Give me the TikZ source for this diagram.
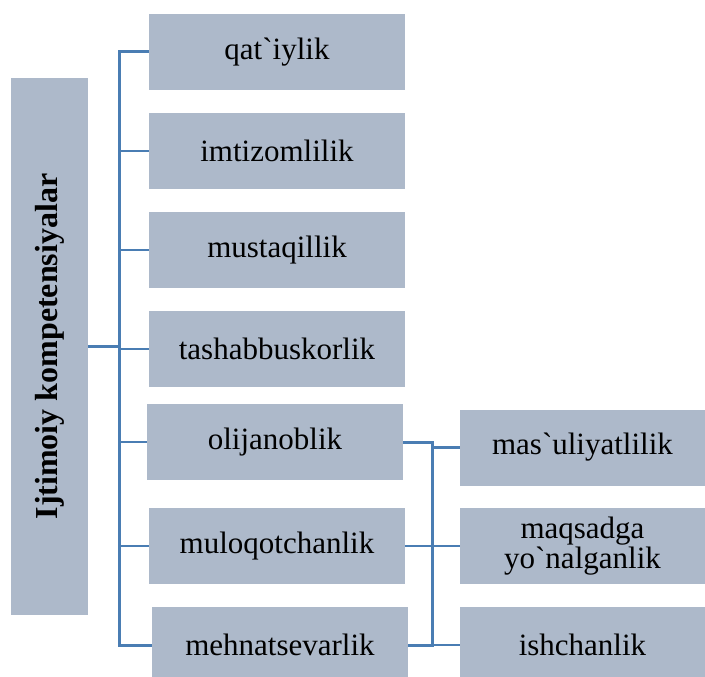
\documentclass[tikz,border=0pt]{standalone}
\usepackage{fontspec}
\setmainfont{Liberation Serif}[Ligatures=TeXOff]
\definecolor{boxfill}{HTML}{ADB9CA}
\definecolor{linec}{HTML}{4A7DB3}
\begin{document}
\begin{tikzpicture}[x=1pt,y=-1pt,
  box/.style={fill=boxfill,draw=none,minimum width=256pt,minimum height=76pt,inner sep=0pt,
    font=\fontsize{31}{28}\selectfont,align=center},
  rbox/.style={box,minimum width=245pt},
  conn/.style={draw=linec,line width=3pt},
  stub/.style={draw=linec,line width=2.2pt}]
\useasboundingbox (0,0) rectangle (705,677);
\node[fill=boxfill,minimum width=77pt,minimum height=537pt,inner sep=0pt] (ijt) at (49.5,346.5) {};
\node[rotate=90,font=\fontsize{32}{32}\selectfont\bfseries] at (ijt.center) {Ijtimoiy kompetensiyalar};
\node[box] (b1) at (277,52) {qat`iylik};
\node[box] (b2) at (277,151) {imtizomlilik};
\node[box] (b3) at (277,250) {mustaqillik};
\node[box] (b4) at (277,349) {tashabbuskorlik};
\node[box] (b5) at (275,442) {olijanoblik};
\node[box] (b6) at (277,546) {muloqotchanlik};
\node[box] (b7) at (280,645) {mehnatsevarlik};
\node[rbox] (r1) at (582.5,447.5) {mas`uliyatlilik};
\node[rbox] (r2) at (582.5,546) {maqsadga\\yo`nalganlik};
\node[rbox] (r3) at (582.5,645) {ishchanlik};
\coordinate (L) at (119,0);
\coordinate (R) at (432,0);
\draw[conn] (b1.west) -- (b1.west -| L) -- (b7.west -| L) -- (b7.west);
\foreach \b in {b2,b3,b4,b5,b6} \draw[stub] (\b.west) -- (\b.west -| L);
\draw[conn] (ijt.east) -- (ijt.east -| L);
\draw[conn] (b5.east) -- (b5.east -| R) -- (b7.east -| R) -- (b7.east);
\draw[stub] (b6.east) -- (r2.west);
\draw[stub] (r1.west) -- (r1.west -| R);
\draw[stub] (r3.west) -- (r3.west -| R);
\end{tikzpicture}
\end{document}
